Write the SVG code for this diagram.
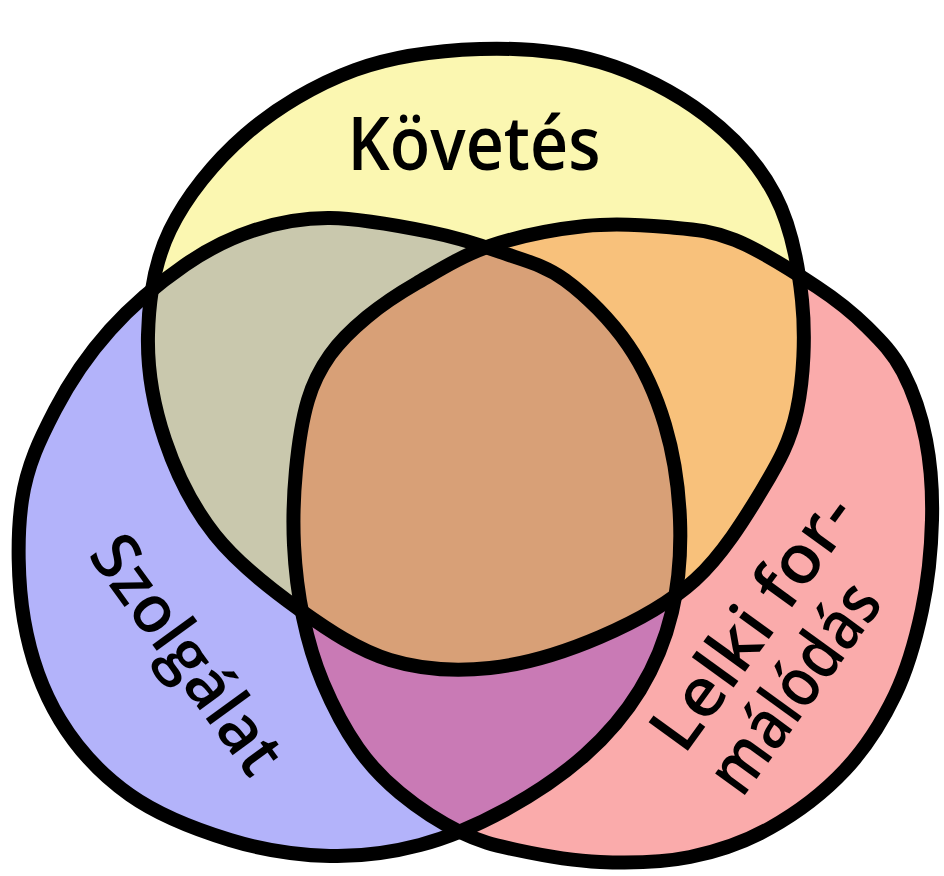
<svg xmlns="http://www.w3.org/2000/svg" xmlns:xlink="http://www.w3.org/1999/xlink" width="944" height="876" viewBox="0 0 944 876">
<style>
.outline{fill:none;stroke:#000;stroke-width:14;stroke-linejoin:round;stroke-linecap:round}
.lbl{font-family:"Open Sans","DejaVu Sans",sans-serif;font-weight:600;fill:#000}
</style>
<defs>
<path id="pTop" d="M480,49 C520.8,47.7 562.5,51 600,62 C637.5,73 675.8,92.8 705,115 C734.2,137.2 758.8,164.2 775,195 C791.2,225.8 798.3,264.2 802,300 C805.7,335.8 803.7,378.3 797,410 C790.3,441.7 779,461.7 762,490 C745,518.3 722,555.5 695,580 C668,604.5 634.2,622.3 600,637 C565.8,651.7 525,664.2 490,668 C455,671.8 421.7,669.7 390,660 C358.3,650.3 329.2,630.8 300,610 C270.8,589.2 237.5,563.3 215,535 C192.5,506.7 176.2,473.3 165,440 C153.8,406.7 147.2,370 148,335 C148.8,300 153.8,263.3 170,230 C186.2,196.7 214.2,161.7 245,135 C275.8,108.3 315.8,84.3 355,70 C394.2,55.7 439.2,50.3 480,49 Z"/>
<path id="pLeft" d="M330,218 C359.2,218.3 401.7,226.3 430,232 C458.3,237.7 477.5,244 500,252 C522.5,260 543.7,264.5 565,280 C586.3,295.5 611.3,320.8 628,345 C644.7,369.2 656.3,395.8 665,425 C673.7,454.2 678.8,488.8 680,520 C681.2,551.2 678.7,583.7 672,612 C665.3,640.3 654.5,666.2 640,690 C625.5,713.8 607.5,735 585,755 C562.5,775 532.5,795 505,810 C477.5,825 449.2,837.3 420,845 C390.8,852.7 361.7,856.8 330,856 C298.3,855.2 263.3,850.2 230,840 C196.7,829.8 158.3,815 130,795 C101.7,775 77.7,749.2 60,720 C42.3,690.8 30.3,656.7 24,620 C17.7,583.3 16.8,535 22,500 C27.2,465 40.3,438.3 55,410 C69.7,381.7 88.3,354.2 110,330 C131.7,305.8 160.8,281.7 185,265 C209.2,248.3 230.8,237.8 255,230 C279.2,222.2 300.8,217.7 330,218 Z"/>
<path id="pRight" d="M585,226 C614.5,222.8 642,224.7 667,227 C692,229.3 710,230 735,240 C760,250 795,272.5 817,287 C839,301.5 852.7,312.8 867,327 C881.3,341.2 893.2,353.2 903,372 C912.8,390.8 921.2,415.3 926,440 C930.8,464.7 932.7,491.7 932,520 C931.3,548.3 928.2,580.8 922,610 C915.8,639.2 907.8,668.3 895,695 C882.2,721.7 865.8,747.8 845,770 C824.2,792.2 795.8,813.5 770,828 C744.2,842.5 718.3,851.3 690,857 C661.7,862.7 628.8,863.2 600,862 C571.2,860.8 540.3,855 517,850 C493.7,845 479.5,841.5 460,832 C440.5,822.5 417,807 400,793 C383,779 370.8,766.3 358,748 C345.2,729.7 332.2,704.8 323,683 C313.8,661.2 307.8,640 303,617 C298.2,594 295.2,569.5 294,545 C292.8,520.5 293.7,494.2 296,470 C298.3,445.8 302.3,419.2 308,400 C313.7,380.8 320.2,368.8 330,355 C339.8,341.2 352.5,329 367,317 C381.5,305 396.5,294.8 417,283 C437.5,271.2 462,255.5 490,246 C518,236.5 555.5,229.2 585,226 Z"/>
<clipPath id="cTop"><use xlink:href="#pTop"/></clipPath>
<clipPath id="cLeft"><use xlink:href="#pLeft"/></clipPath>
</defs>
<rect width="944" height="876" fill="#ffffff"/>
<g id="kovetes">
<use xlink:href="#pTop" fill="#FBF7B1"/>
</g>
<g id="szolgalat">
<use xlink:href="#pLeft" fill="#B3B3FA"/>
</g>
<g id="lelki-formalodas">
<use xlink:href="#pRight" fill="#FAABAB"/>
</g>
<g id="overlaps">
<g clip-path="url(#cTop)">
<use xlink:href="#pLeft" fill="#C9C8AD"/>
<use xlink:href="#pRight" fill="#F8C17B"/>
</g>
<g clip-path="url(#cLeft)">
<use xlink:href="#pRight" fill="#C97AB5"/>
</g>
<g clip-path="url(#cTop)"><g clip-path="url(#cLeft)">
<use xlink:href="#pRight" fill="#D8A077"/>
</g></g>
</g>
<g id="outlines">
<use xlink:href="#pTop" class="outline"/>
<use xlink:href="#pLeft" class="outline"/>
<use xlink:href="#pRight" class="outline"/>
</g>
<g id="labels">
<text class="lbl" x="474" y="170" font-size="74" text-anchor="middle" textLength="253" lengthAdjust="spacingAndGlyphs">Követés</text>
<text class="lbl" transform="translate(87,555) rotate(54)" x="0" y="0" font-size="66" textLength="278" lengthAdjust="spacingAndGlyphs">Szolgálat</text>
<text class="lbl" transform="translate(684,756) rotate(-54)" x="0" y="0" font-size="68" textLength="298" lengthAdjust="spacingAndGlyphs">Lelki for-</text>
<text class="lbl" transform="translate(742,799) rotate(-54)" x="0" y="0" font-size="68" textLength="242" lengthAdjust="spacingAndGlyphs">málódás</text>
</g>
</svg>
